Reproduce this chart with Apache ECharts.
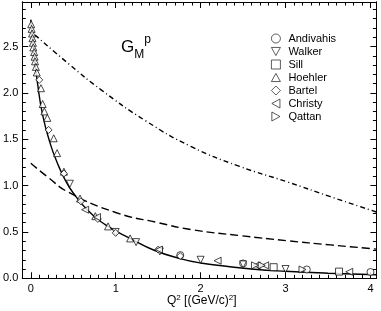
<!DOCTYPE html>
<html><head><meta charset="utf-8">
<script src="https://cdn.jsdelivr.net/npm/echarts@6/dist/echarts.min.js"></script>
<style>html,body{margin:0;padding:0;background:#fff}#c{width:381px;height:311px}</style>
</head><body><div id="c"></div>
<script>
// ---- data ----
var xMajorTicks = [0, 1, 2, 3, 4];
var yMajorTicks = [0, 0.5, 1, 1.5, 2, 2.5];
var yTickLabels = ['0.0', '0.5', '1.0', '1.5', '2.0', '2.5'];
var xTickLabels = ['0', '1', '2', '3', '4'];

var hoehler = [[0.005,2.74],[0.01,2.69],[0.015,2.64],[0.02,2.59],[0.025,2.54],[0.03,2.49],[0.04,2.44],[0.045,2.39],[0.05,2.34],[0.06,2.28],[0.07,2.22],[0.12,2.05],[0.14,1.88],[0.16,1.80],[0.195,1.73],[0.27,1.51],[0.31,1.35],[0.39,1.15],[0.58,0.86],[0.76,0.67],[0.91,0.56],[1.17,0.43]];
var bartel = [[0.1,2.14],[0.21,1.60],[0.39,1.13],[0.59,0.83],[0.79,0.64],[1.0,0.49],[1.5,0.31],[1.76,0.24]];
var walker = [[0.46,1.02],[1.0,0.50],[1.24,0.39],[1.52,0.29],[2.0,0.20],[2.5,0.15],[3.0,0.10]];
var andivahis = [[1.76,0.25],[2.5,0.16],[3.25,0.095],[4.0,0.068]];
var sill = [[2.86,0.12],[3.63,0.072]];
var christy = [[0.64,0.74],[0.78,0.66],[1.51,0.31],[2.2,0.19],[2.66,0.14],[2.76,0.14],[3.75,0.07]];
var qattan = [[2.64,0.14],[2.72,0.14],[3.2,0.095]];

var solidCurve = [[0,2.79],[0.04,2.40],[0.08,2.10],[0.14,1.76],[0.23,1.45],[0.31,1.25],[0.4,1.07],[0.5,0.92],[0.68,0.725],[0.9,0.565],[1.18,0.425],[1.46,0.30],[1.77,0.21],[2.0,0.165],[2.3,0.13],[2.63,0.098],[3.0,0.076],[3.5,0.055],[4.07,0.038]];
var dashedCurve = [[0,1.24],[0.21,1.085],[0.44,0.93],[1.0,0.71],[1.5,0.60],[1.89,0.525],[2.47,0.46],[3.02,0.405],[3.53,0.36],[4.07,0.315]];
var dashDotCurve = [[0.05,2.625],[0.45,2.31],[0.832,2.03],[1.35,1.70],[1.89,1.42],[2.45,1.21],[3.02,1.04],[3.53,0.88],[4.07,0.715]];

// ---- chart ----
var FONT = 'Liberation Sans';
var xMin = -0.1, xMax = 4.07, yMin = 0, yMax = 2.98;
var xMinor = [], yMinor = [];
for (var i = -1; i <= 40; i++) xMinor.push(+(i * 0.1).toFixed(2));
for (var j = 0; j <= 29; j++) yMinor.push(+(j * 0.1).toFixed(2));

function xAx(pos, ticks, len, labels) {
  return {
    type: 'value', position: pos, min: xMin, max: xMax,
    axisLine: {show: true, onZero: false, lineStyle: {color: '#000', width: 1}},
    splitLine: {show: false},
    axisTick: {show: true, inside: true, length: len, customValues: ticks, lineStyle: {color: '#000', width: 1}},
    axisLabel: labels ? {show: true, customValues: xMajorTicks, margin: 5, color: '#000', fontFamily: FONT, fontSize: 11,
      formatter: function (v) { var k = xMajorTicks.indexOf(v); return k >= 0 ? xTickLabels[k] : ''; }} : {show: false}
  };
}
function yAx(pos, ticks, len, labels) {
  return {
    type: 'value', position: pos, min: yMin, max: yMax,
    axisLine: {show: true, onZero: false, lineStyle: {color: '#000', width: 1}},
    splitLine: {show: false},
    axisTick: {show: true, inside: true, length: len, customValues: ticks, lineStyle: {color: '#000', width: 1}},
    axisLabel: labels ? {show: true, customValues: yMajorTicks, margin: 4, color: '#000', fontFamily: FONT, fontSize: 11,
      formatter: function (v) { var k = yMajorTicks.indexOf(v); return k >= 0 ? yTickLabels[k] : ''; }} : {show: false}
  };
}

function scat(name, data, symbol, rot) {
  return {
    name: name, type: 'scatter', data: data, symbol: symbol, symbolSize: 7, symbolRotate: rot || 0,
    xAxisIndex: 0, yAxisIndex: 0, z: 5,
    itemStyle: {color: '#fff', borderColor: '#000', borderWidth: 0.9}
  };
}
function curve(data, type) {
  return {
    type: 'line', data: data, smooth: 0.5, showSymbol: false, symbol: 'none',
    xAxisIndex: 0, yAxisIndex: 0, z: 3, silent: true,
    lineStyle: {color: '#000', width: 1.4, type: type}
  };
}

var chart = echarts.init(document.getElementById('c'), null, {renderer: 'canvas'});
chart.setOption({
  animation: false,
  backgroundColor: '#fff',
  grid: {left: 20.7, right: 4.6, top: 2, bottom: 32.7, containLabel: false},
  xAxis: [xAx('bottom', xMajorTicks, 6, true), xAx('bottom', xMinor, 3.5, false), xAx('top', xMajorTicks, 6, false), xAx('top', xMinor, 3.5, false)],
  yAxis: [yAx('left', yMajorTicks, 6, true), yAx('left', yMinor, 3.5, false), yAx('right', yMajorTicks, 6, false), yAx('right', yMinor, 3.5, false)],
  legend: {
    orient: 'vertical', left: 266, top: 28, itemWidth: 9, itemHeight: 9, itemGap: 2,
    itemStyle: {color: '#fff', borderColor: '#000', borderWidth: 0.8},
    textStyle: {fontFamily: FONT, fontSize: 11, color: '#000', padding: [0, 0, 0, 3]},
    data: [
      {name: 'Andivahis', icon: 'circle'},
      {name: 'Walker', icon: 'path://M0,0L10,0L5,9Z'},
      {name: 'Sill', icon: 'rect'},
      {name: 'Hoehler', icon: 'path://M5,0L10,9L0,9Z'},
      {name: 'Bartel', icon: 'diamond'},
      {name: 'Christy', icon: 'path://M9,0L9,10L0,5Z'},
      {name: 'Qattan', icon: 'path://M0,0L0,10L9,5Z'}
    ]
  },
  graphic: [
    {type: 'text', left: 121, top: 34, style: {
      text: 'G{sub|M}{sup|p}', fontFamily: FONT, fontSize: 17, fill: '#000',
      rich: {sub: {fontFamily: FONT, fontSize: 12, verticalAlign: 'bottom', padding: [15, 0, 0, 0]},
             sup: {fontFamily: FONT, fontSize: 12, verticalAlign: 'top', padding: [0, 0, 8, 0]}}}},
    {type: 'text', left: 167, top: 294, style: {
      text: 'Q{sup|2} [(GeV/c){sup|2}]', fontFamily: FONT, fontSize: 12, fill: '#000',
      rich: {sup: {fontFamily: FONT, fontSize: 8, verticalAlign: 'top', padding: [0, 0, 6, 0]}}}}
  ],
  series: [
    curve(solidCurve, 'solid'),
    curve(dashedCurve, [8, 4]),
    curve(dashDotCurve, [5, 3, 1, 3]),
    scat('Andivahis', andivahis, 'circle'),
    scat('Walker', walker, 'triangle', 180),
    scat('Sill', sill, 'rect'),
    scat('Hoehler', hoehler, 'triangle'),
    scat('Bartel', bartel, 'diamond'),
    scat('Christy', christy, 'triangle', 90),
    scat('Qattan', qattan, 'triangle', -90)
  ]
});
</script></body></html>
